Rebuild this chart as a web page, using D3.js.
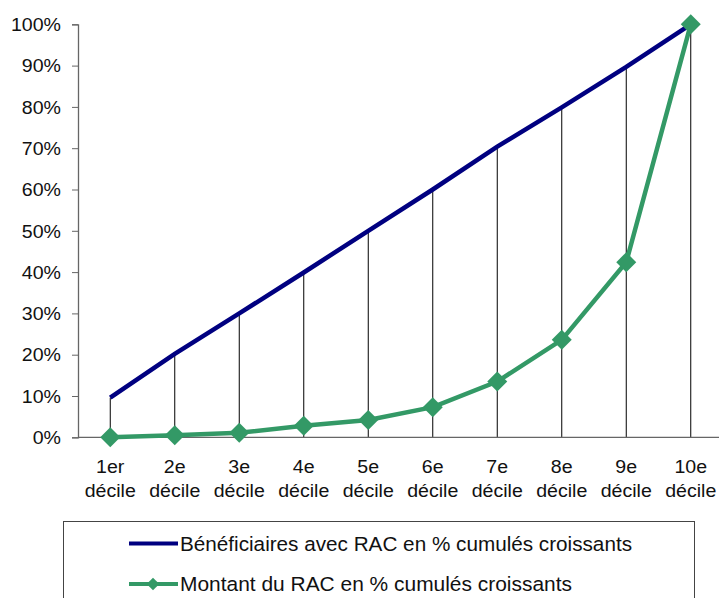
<!DOCTYPE html>
<html><head><meta charset="utf-8">
<script src="https://cdn.jsdelivr.net/npm/d3@7"></script>
<style>body{margin:0;background:#fff}svg{display:block}text{font-family:"Liberation Sans",Arial,sans-serif;fill:#111}</style>
</head><body><svg id="c" width="719" height="598"></svg>
<script>
const categories = ["1er décile","2e décile","3e décile","4e décile","5e décile","6e décile","7e décile","8e décile","9e décile","10e décile"];
const beneficiaires = [9.6, 20.2, 30, 39.9, 50, 60, 70.4, 79.9, 89.7, 100];
const montant = [0, 0.5, 1.1, 2.8, 4.2, 7.3, 13.5, 23.6, 42.4, 100];
const yTicks = [0,10,20,30,40,50,60,70,80,90,100];
const seriesNames = ["Bénéficiaires avec RAC en % cumulés croissants","Montant du RAC en % cumulés croissants"];

const svg = d3.select("#c");
const x = d3.scaleBand().domain(categories).range([78, 723]);
const y = d3.scaleLinear().domain([0,100]).range([437.3, 24.3]);
const cx = d => x(d) + x.bandwidth()/2;

// drop lines
svg.append("g").selectAll("line").data(categories).join("line")
  .attr("x1", cx).attr("x2", cx)
  .attr("y1", (d,i)=>y(Math.max(beneficiaires[i], montant[i])))
  .attr("y2", y(0)).attr("stroke","#000").attr("stroke-width",1);

// y axis
const ya = svg.append("g").attr("transform","translate(78,0)")
  .call(d3.axisLeft(y).tickValues(yTicks).tickSize(6).tickPadding(0).tickFormat(d=>""));
ya.select(".domain").attr("stroke","#666").attr("stroke-width",1.3);
ya.selectAll(".tick line").attr("stroke","#666");
ya.selectAll(".tick").append("text").text(d=>d+"%")
  .attr("text-anchor","end").attr("font-size",17.5)
  .attr("transform","translate(-17,6.2) scale(1.12,1)").attr("fill","#111");

// x axis
svg.append("line").attr("x1",78).attr("x2",719).attr("y1",y(0)).attr("y2",y(0))
  .attr("stroke","#666").attr("stroke-width",1.3);
const xl = svg.append("g").selectAll("g").data(categories).join("g")
  .attr("transform", d=>`translate(${cx(d)},0)`);
xl.append("text").text(d=>d.split(" ")[0]).attr("text-anchor","middle").attr("font-size",17.5)
  .attr("transform","translate(0,473) scale(1.12,1)");
xl.append("text").text(d=>d.split(" ")[1]).attr("text-anchor","middle").attr("font-size",17.5)
  .attr("transform","translate(0,497) scale(1.12,1)");

// lines
const line = d3.line().x((d,i)=>cx(categories[i])).y(d=>y(d));
svg.append("path").datum(beneficiaires).attr("d",line).attr("fill","none")
  .attr("stroke","#000080").attr("stroke-width",4.5);
svg.append("path").datum(montant).attr("d",line).attr("fill","none")
  .attr("stroke","#339966").attr("stroke-width",4.5);
const diamond = d3.symbol().type(d3.symbolSquare).size(200);
svg.append("g").selectAll("path").data(montant).join("path")
  .attr("d", diamond).attr("fill","#339966")
  .attr("transform",(d,i)=>`translate(${cx(categories[i])},${y(d)}) rotate(45)`);

// legend
svg.append("rect").attr("x",63.5).attr("y",521.5).attr("width",631).attr("height",90)
  .attr("fill","none").attr("stroke","#444").attr("stroke-width",1);
const lg = [{c:"#000080",y:543.5,m:false},{c:"#339966",y:584,m:true}];
lg.forEach((l,i)=>{
  svg.append("line").attr("x1",129).attr("x2",178).attr("y1",l.y).attr("y2",l.y)
    .attr("stroke",l.c).attr("stroke-width",4);
  if(l.m) svg.append("path").attr("d",d3.symbol().type(d3.symbolSquare).size(80))
    .attr("fill",l.c).attr("transform",`translate(153,${l.y}) rotate(45)`);
  svg.append("text").text(seriesNames[i]).attr("x",180).attr("y",l.y+7)
    .attr("font-size",20.5).attr("textLength", i===0?452:392).attr("lengthAdjust","spacingAndGlyphs");
});
</script></body></html>
